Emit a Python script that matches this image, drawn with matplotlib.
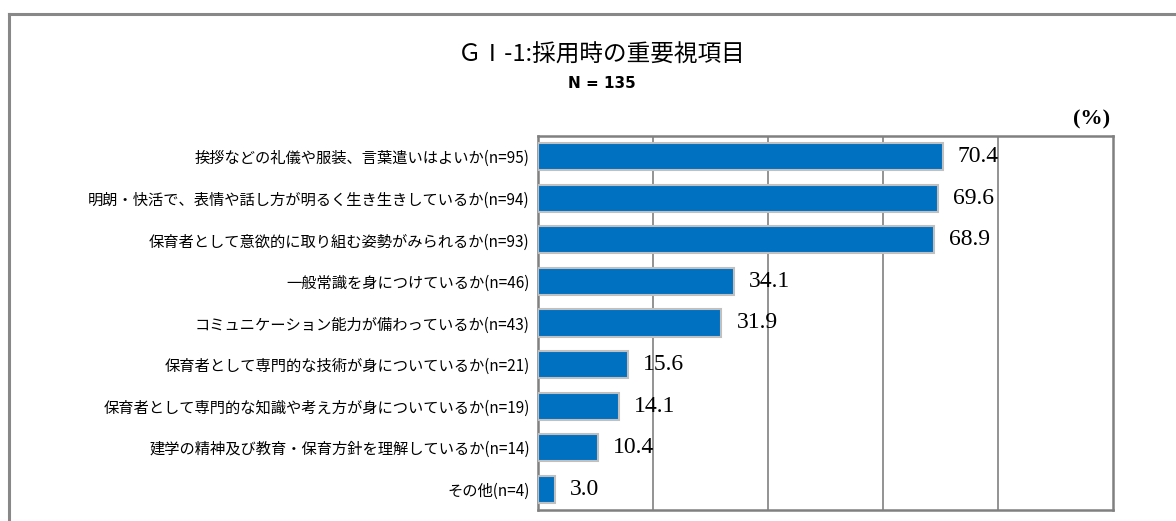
import matplotlib
matplotlib.use('Agg')
import matplotlib.pyplot as plt
from matplotlib.lines import Line2D

plt.rcParams['font.family'] = ['Noto Sans CJK JP', 'DejaVu Sans']

labels = [
    '挨拶などの礼儀や服装、言葉遣いはよいか(n=95)',
    '明朗・快活で、表情や話し方が明るく生き生きしているか(n=94)',
    '保育者として意欲的に取り組む姿勢がみられるか(n=93)',
    '一般常識を身につけているか(n=46)',
    'コミュニケーション能力が備わっているか(n=43)',
    '保育者として専門的な技術が身についているか(n=21)',
    '保育者として専門的な知識や考え方が身についているか(n=19)',
    '建学の精神及び教育・保育方針を理解しているか(n=14)',
    'その他(n=4)',
]
values = [70.4, 69.6, 68.9, 34.1, 31.9, 15.6, 14.1, 10.4, 3.0]

W, H = 1176, 521
fig = plt.figure(figsize=(W / 100, H / 100), dpi=100)

# outer frame (only left and top visible in the crop)
fig.add_artist(Line2D([9 / W, 9 / W], [0, 1 - 14 / H], color='#888888', lw=2.2,
                      transform=fig.transFigure))
fig.add_artist(Line2D([9 / W, 1], [1 - 14 / H, 1 - 14 / H], color='#888888', lw=2.2,
                      transform=fig.transFigure))

ax = fig.add_axes([538 / W, 11 / H, 575 / W, 374 / H])
y = range(len(values))
ax.barh(y, values, height=0.65, color='#0070C0', edgecolor='#C0C0C0', linewidth=1.5, zorder=3)

for i, v in enumerate(values):
    ax.text(v + 2.6, i, f'{v:.1f}', va='center', ha='left', fontsize=17,
            family='Liberation Serif', zorder=4)

ax.set_xlim(0, 100)
ax.set_ylim(len(values) - 0.5, -0.5)
ax.set_xticks([20, 40, 60, 80])
ax.xaxis.grid(True, color='#808080', lw=1.2)
ax.tick_params(axis='x', length=0, labelbottom=False)
ax.set_yticks(list(y))
ax.set_yticklabels(labels, fontsize=11)
ax.tick_params(axis='y', length=0, pad=6)
for s in ax.spines.values():
    s.set_color('#808080')
    s.set_linewidth(1.8)

fig.text(602 / W, 1 - 55 / H, 'ＧⅠ-1:採用時の重要視項目', ha='center', va='center', fontsize=17)
fig.text(602 / W, 1 - 84 / H, 'N = 135', ha='center', va='center', fontsize=11,
         fontweight='bold', family='DejaVu Sans')
fig.text(1110 / W, 1 - 119 / H, '(%)', ha='right', va='center', fontsize=16,
         fontweight='bold', family='Liberation Serif')

fig.savefig('out.png', dpi=100)
